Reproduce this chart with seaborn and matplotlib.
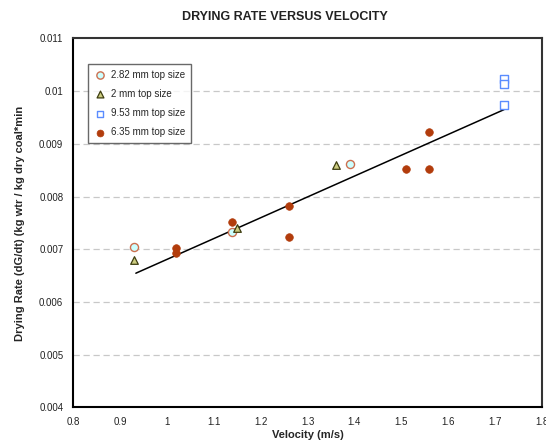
import matplotlib
matplotlib.use("Agg")
import matplotlib.pyplot as plt
from matplotlib.ticker import FuncFormatter, MultipleLocator
import seaborn as sns
import pandas as pd

# Measured drying rates (kg water / kg dry coal*min) against air velocity (m/s)
vel_282 = [0.93, 1.14, 1.39]
rate_282 = [0.00704, 0.00732, 0.00862]

vel_2 = [0.93, 1.15, 1.36]
rate_2 = [0.00680, 0.00740, 0.00860]

vel_953 = [1.72, 1.72, 1.72]
rate_953 = [0.01023, 0.01013, 0.00974]

vel_635 = [1.02, 1.02, 1.14, 1.26, 1.26, 1.51, 1.56, 1.56]
rate_635 = [0.00703, 0.00693, 0.00752, 0.00782, 0.00723, 0.00853, 0.00853, 0.00922]

# Linear trend line end points
trend_vel = [0.934, 1.719]
trend_rate = [0.006545, 0.00965]

series_labels = ["2.82 mm top size", "2 mm top size", "9.53 mm top size", "6.35 mm top size"]

sns.set_style("white")
plt.rcParams["font.family"] = ["Liberation Sans", "DejaVu Sans"]

fig = plt.figure(figsize=(5.46, 4.43), dpi=100)
ax = fig.add_axes([0.1337, 0.0806, 0.859, 0.8325])

styles = [
    dict(marker="o", s=34, facecolor="#ccffff", edgecolor="#cc7050", linewidth=1.0),
    dict(marker="^", s=30, facecolor="#cccc80", edgecolor="#3d3d10", linewidth=0.9),
    dict(marker="s", s=26, facecolor="white", edgecolor="#5a8cff", linewidth=1.0),
    dict(marker="o", s=30, facecolor="#b23c0c", edgecolor="#b23c0c", linewidth=0.5),
]
data = [(vel_282, rate_282), (vel_2, rate_2), (vel_953, rate_953), (vel_635, rate_635)]

for (vx, vy), label, st in zip(data, series_labels, styles):
    df = pd.DataFrame({"v": vx, "r": vy})
    sns.scatterplot(data=df, x="v", y="r", ax=ax, label=label, zorder=3, **st)

trend = pd.DataFrame({"v": trend_vel, "r": trend_rate})
sns.lineplot(data=trend, x="v", y="r", ax=ax, color="black", linewidth=1.1, zorder=2)

ax.set_xlim(0.8, 1.8)
ax.set_ylim(0.004, 0.011)
ax.xaxis.set_major_locator(MultipleLocator(0.1))
ax.yaxis.set_major_locator(MultipleLocator(0.001))
fmt = FuncFormatter(lambda v, p: f"{v:.4g}")
ax.xaxis.set_major_formatter(fmt)
ax.yaxis.set_major_formatter(fmt)

for yv in [0.005, 0.006, 0.007, 0.008, 0.009, 0.010]:
    ax.axhline(yv, color="#c8c8c8", linestyle=(0, (5, 3)), linewidth=0.9, zorder=1)

for side in ["left", "bottom", "top", "right"]:
    ax.spines[side].set_color("black")
    ax.spines[side].set_linewidth(1.5)
ax.spines["top"].set_color("#333333")
ax.spines["right"].set_color("#333333")

ax.tick_params(axis="both", which="major", direction="inout", length=6, width=1,
               labelsize=7, colors="black", labelcolor="#222222", pad=4)
ax.tick_params(axis="x", top=False)
ax.tick_params(axis="y", right=False)

ax.set_xlabel("Velocity (m/s)", fontsize=8, fontweight="bold", labelpad=2)
ax.set_ylabel("Drying Rate (dG/dt) (kg wtr / kg dry coal*min", fontsize=8,
              fontweight="bold", labelpad=10)
fig.text(0.522, 0.962, "DRYING RATE VERSUS VELOCITY", ha="center", va="center",
         fontsize=9, fontweight="bold", color="#222222")

leg = ax.legend(loc="upper left", bbox_to_anchor=(0.0326, 0.931), borderaxespad=0,
                fontsize=7, frameon=True, fancybox=False, labelspacing=0.95,
                handletextpad=0.5, handlelength=1.2, borderpad=0.6, markerscale=0.9)
leg.get_frame().set_edgecolor("#444444")
leg.get_frame().set_linewidth(1.0)

fig.savefig("out.png", dpi=100)
